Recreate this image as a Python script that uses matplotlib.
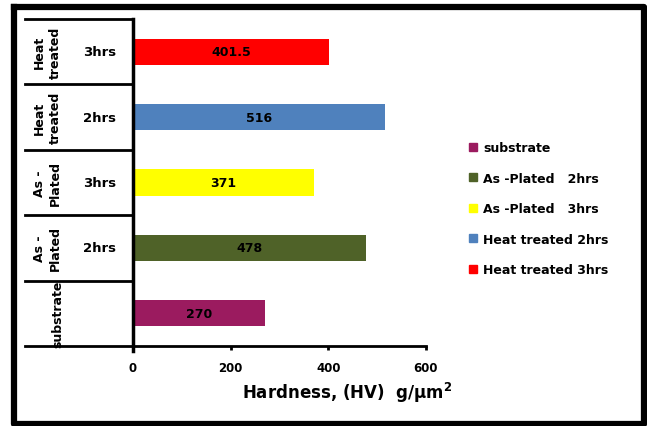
import matplotlib.pyplot as plt
from matplotlib.lines import Line2D

# data
groups = ["substrate", "As -\nPlated", "As -\nPlated", "Heat\ntreated", "Heat\ntreated"]
times = ["", "2hrs", "3hrs", "2hrs", "3hrs"]
hardness = [270, 478, 371, 516, 401.5]
value_labels = ["270", "478", "371", "516", "401.5"]
legend_names = ["substrate", "As -Plated   2hrs", "As -Plated   3hrs",
                "Heat treated 2hrs", "Heat treated 3hrs"]
colors = ["#9B1B5F", "#4F6228", "#FFFF00", "#4F81BD", "#FF0000"]

W, H = 647, 427
fig = plt.figure(figsize=(W / 100, H / 100), dpi=100)
ax = fig.add_axes([133 / W, 1 - 347 / H, (426 - 133) / W, (347 - 20) / H])

ypos = list(range(len(hardness)))
bars = ax.barh(ypos, hardness, height=0.4, color=colors)
for b, lab in zip(bars, value_labels):
    ax.text(b.get_width() / 2, b.get_y() + b.get_height() / 2, lab,
            ha="center", va="center", fontsize=9, fontweight="bold")

ax.set_xlim(0, 600)
ax.set_ylim(-0.5, 4.5)
ax.set_xticks([0, 200, 400, 600])
ax.set_xticklabels(["0", "200", "400", "600"], fontsize=8.5, fontweight="bold")
ax.set_yticks([])
ax.tick_params(axis="x", length=3, width=2, pad=8)
for s in ["top", "right"]:
    ax.spines[s].set_visible(False)
ax.spines["left"].set_linewidth(2.5)
ax.spines["bottom"].set_linewidth(2)
ax.spines["left"].set_bounds(-0.58, 4.5)

# x label sits right of the axes centre in the original
fig.text(347 / W, 1 - 393 / H, "Hardness, (HV)  g/µm$^\\mathbf{2}$",
         ha="center", va="center", fontsize=12, fontweight="bold")

# multi-level category labels
tr = ax.get_yaxis_transform()
x_left = (25 - 133) / (426 - 133)
for k in range(len(hardness) + 1):
    ax.add_line(Line2D([x_left, 0], [k - 0.5, k - 0.5], transform=tr,
                       color="black", lw=2, clip_on=False))
for i, (g, t) in enumerate(zip(groups, times)):
    gx = (58 - 133) / 293 if i == 0 else (47.5 - 133) / 293
    ax.text(gx, i, g, transform=tr, rotation=90, ha="center", va="center",
            fontsize=9, fontweight="bold", linespacing=1.35)
    ax.text((100 - 133) / 293, i, t, transform=tr, ha="center", va="center",
            fontsize=9.5, fontweight="bold")

# legend
handles = [plt.Rectangle((0, 0), 1, 1, color=c) for c in colors]
fig.legend(handles, legend_names, loc="upper left",
           bbox_to_anchor=(458 / W, 1 - 131 / H), frameon=False,
           prop={"weight": "bold", "size": 9}, handlelength=0.6,
           handleheight=0.6, handletextpad=0.5, labelspacing=1.4)

# outer frame
fx = [13.5, 644, 644, 13.5, 13.5]
fy = [7.5, 7.5, 424.5, 424.5, 7.5]
fig.add_artist(Line2D([x / W for x in fx], [1 - y / H for y in fy],
                      transform=fig.transFigure, color="black", lw=4.5))

fig.savefig("out.png", dpi=100)
